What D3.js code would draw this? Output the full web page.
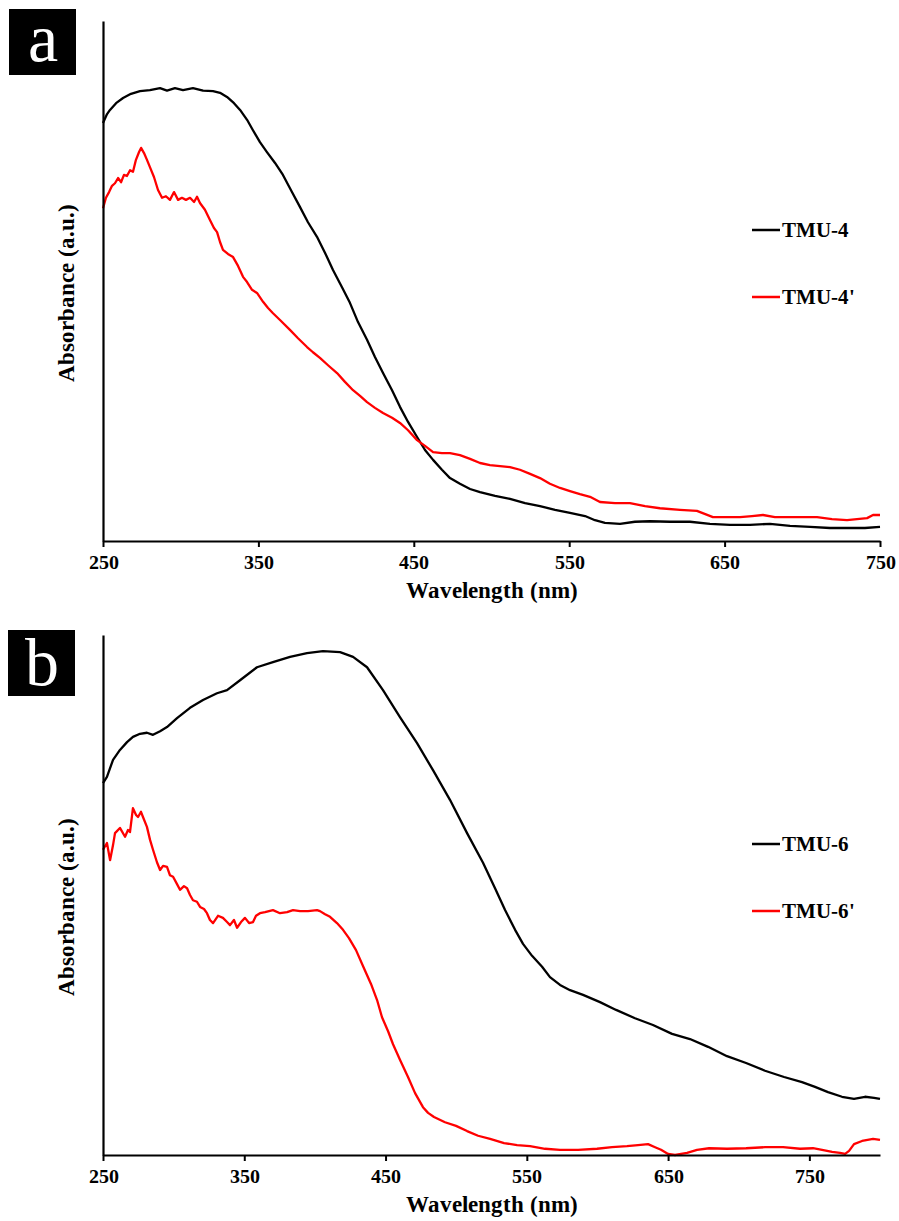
<!DOCTYPE html>
<html>
<head>
<meta charset="utf-8">
<script src="https://cdn.jsdelivr.net/npm/d3@7"></script>
<style>
  @font-face { font-family: 'ChartSerif'; src: local('Liberation Serif'), local('LiberationSerif'), local('Liberation Serif Regular'), local('LiberationSerif-Regular'); font-weight: normal; }
  @font-face { font-family: 'ChartSerif'; src: local('Liberation Serif Bold'), local('LiberationSerif-Bold'); font-weight: bold; }
  html, body { margin: 0; padding: 0; background: #fff; }
  svg { display: block; }
  .serif { font-family: 'ChartSerif', 'Liberation Serif', serif !important; }
</style>
</head>
<body>
<svg id="chart" width="899" height="1221"></svg>
<script>
// ---------- DATA ----------
const xTicks = [250, 350, 450, 550, 650, 750];

// Panel a
const tmu4Wl = [250.0,252.6,254.5,258.4,262.9,268.0,273.8,280.2,286.7,291.2,296.3,301.5,307.9,314.4,320.8,325.3,329.8,334.3,338.2,342.7,346.5,351.0,355.5,360.7,365.8,371.6,376.8,381.9,387.7,392.9,398.0,403.8,408.9,414.1,419.9,425.0,430.2,436.0,441.1,446.3,452.1,457.2,462.4,468.1,473.3,479.7,486.2,492.6,502.3,511.9,521.6,531.2,540.9,550.5,560.2,566.6,573.0,582.7,592.3,602.0,614.9,627.7,640.6,653.5,666.3,679.2,692.1,705.0,717.8,730.7,740.3,750.0];
const tmu4Abs = [0.804,0.821,0.829,0.842,0.852,0.860,0.865,0.867,0.871,0.866,0.871,0.867,0.871,0.866,0.865,0.862,0.854,0.842,0.829,0.810,0.790,0.767,0.748,0.727,0.704,0.671,0.642,0.613,0.585,0.554,0.521,0.488,0.458,0.421,0.387,0.354,0.323,0.290,0.258,0.229,0.200,0.175,0.156,0.137,0.121,0.110,0.100,0.094,0.087,0.081,0.073,0.067,0.060,0.054,0.048,0.040,0.035,0.033,0.037,0.038,0.037,0.037,0.033,0.031,0.031,0.033,0.029,0.027,0.025,0.025,0.025,0.027];

const tmu4pWl = [250.0,251.9,253.9,255.8,257.7,259.7,261.6,263.5,265.4,267.4,269.3,271.2,273.2,274.5,276.4,278.3,280.2,282.8,285.4,288.0,290.5,293.1,295.7,298.3,300.8,303.4,306.0,308.6,310.5,312.4,315.6,318.9,321.4,323.4,325.3,327.2,330.4,333.7,336.9,340.1,342.7,345.9,349.1,353.0,356.2,359.4,363.9,370.3,375.5,381.3,385.1,389.6,394.8,400.6,405.7,410.9,415.4,419.9,425.0,430.2,436.0,441.1,446.3,452.1,457.2,462.4,468.1,473.3,479.7,486.2,492.6,499.0,505.5,511.9,518.3,524.8,531.2,537.6,544.1,550.5,556.9,563.4,569.8,579.5,589.1,598.8,608.4,621.3,632.2,642.5,651.5,659.9,667.6,674.7,682.4,690.2,698.5,709.5,719.1,728.8,735.2,741.7,745.5,750.0];
const tmu4pAbs = [0.640,0.660,0.671,0.683,0.688,0.698,0.690,0.704,0.702,0.713,0.710,0.733,0.748,0.756,0.746,0.733,0.719,0.700,0.675,0.660,0.663,0.656,0.671,0.656,0.660,0.656,0.660,0.652,0.662,0.650,0.637,0.617,0.602,0.594,0.575,0.560,0.552,0.546,0.529,0.508,0.498,0.483,0.477,0.460,0.448,0.438,0.425,0.406,0.390,0.373,0.363,0.352,0.338,0.323,0.306,0.290,0.279,0.267,0.256,0.246,0.237,0.227,0.213,0.194,0.183,0.171,0.169,0.169,0.165,0.158,0.150,0.146,0.144,0.142,0.137,0.129,0.121,0.110,0.102,0.096,0.090,0.085,0.075,0.073,0.073,0.067,0.063,0.060,0.058,0.046,0.046,0.046,0.048,0.050,0.046,0.046,0.046,0.046,0.042,0.040,0.042,0.044,0.050,0.050];

// Panel b
const tmu6Wl = [250.0,252.8,257.1,262.0,267.0,271.2,276.2,281.1,285.4,290.4,295.3,302.4,311.6,320.8,330.7,337.8,347.0,359.0,370.3,382.4,394.4,405.7,417.8,427.0,436.9,448.2,460.2,472.3,483.6,495.6,507.7,519.0,527.5,534.6,541.7,547.3,553.7,560.8,566.4,573.5,580.6,589.8,601.8,613.2,626.6,639.3,652.8,665.5,678.3,691.7,705.2,718.6,732.1,744.8,754.0,763.2,773.1,781.6,789.4,795.8,800.0];
const tmu6Abs = [0.715,0.727,0.760,0.779,0.794,0.804,0.810,0.812,0.808,0.815,0.823,0.840,0.860,0.875,0.888,0.894,0.913,0.938,0.948,0.958,0.965,0.969,0.967,0.958,0.938,0.894,0.842,0.792,0.740,0.683,0.619,0.562,0.513,0.471,0.433,0.406,0.383,0.362,0.342,0.327,0.317,0.308,0.294,0.279,0.263,0.250,0.233,0.223,0.208,0.190,0.177,0.162,0.150,0.140,0.131,0.121,0.112,0.108,0.112,0.110,0.108];

const tmu6pWl = [250.0,252.8,255.0,257.1,258.5,262.0,265.6,267.7,269.1,271.2,273.4,274.8,276.9,278.3,281.1,283.3,285.4,288.2,290.4,292.5,295.3,297.4,299.6,302.4,304.5,307.3,309.5,311.6,313.7,316.5,318.7,321.5,323.6,325.7,327.9,331.4,334.9,337.8,339.9,342.7,344.9,347.7,350.5,353.4,356.2,358.3,361.1,364.7,370.3,375.3,380.3,384.5,389.5,395.1,401.5,403.6,407.2,410.7,415.6,419.9,424.1,429.1,434.1,439.7,444.0,447.5,451.8,455.3,460.2,465.9,470.9,476.5,480.1,484.3,492.1,499.9,507.7,515.5,524.0,533.9,543.1,552.3,562.9,573.5,586.3,599.7,610.3,620.9,628.7,635.8,640.8,645.0,650.0,654.9,659.2,663.4,670.5,679.0,691.7,705.2,718.6,731.4,743.4,752.6,759.0,766.1,771.7,775.3,778.1,781.6,787.3,795.1,800.0];
const tmu6pAbs = [0.587,0.600,0.567,0.596,0.619,0.629,0.612,0.625,0.621,0.667,0.654,0.650,0.660,0.650,0.631,0.606,0.587,0.563,0.548,0.556,0.554,0.538,0.535,0.521,0.510,0.517,0.513,0.500,0.490,0.487,0.477,0.473,0.465,0.452,0.446,0.460,0.456,0.448,0.442,0.452,0.437,0.448,0.456,0.446,0.448,0.460,0.465,0.467,0.471,0.465,0.467,0.471,0.469,0.469,0.471,0.469,0.463,0.458,0.446,0.433,0.417,0.394,0.363,0.329,0.298,0.265,0.238,0.213,0.183,0.150,0.119,0.092,0.081,0.073,0.063,0.056,0.046,0.037,0.031,0.023,0.019,0.017,0.012,0.010,0.010,0.012,0.015,0.017,0.019,0.021,0.015,0.010,0.002,0.000,0.002,0.004,0.010,0.013,0.012,0.013,0.015,0.015,0.012,0.013,0.010,0.006,0.004,0.002,0.008,0.021,0.027,0.031,0.029];

const panelLabels = ["a", "b"];
const seriesNamesA = ["TMU-4", "TMU-4'"];
const seriesNamesB = ["TMU-6", "TMU-6'"];
const xTitle = "Wavelength (nm)";
const yTitle = "Absorbance (a.u.)";
const colors = ["#000000", "#ff0000"];

// ---------- DRAW ----------
const svg = d3.select("#chart");

function drawPanel(cfg) {
  const g = svg.append("g");
  const x = d3.scaleLinear().domain(cfg.xDomain).range([103, 880]);
  const y = d3.scaleLinear().domain([0, 1]).range([cfg.bottom, cfg.bottom - 520]);

  const line = d3.line().x(d => x(d[0])).y(d => y(d[1]));
  cfg.series.forEach((s, i) => {
    const pts = s.wl.map((w, k) => [w, s.abs[k]]);
    g.append("path").datum(pts)
      .attr("d", line)
      .attr("fill", "none")
      .attr("stroke", colors[i])
      .attr("stroke-width", 2.3)
      .attr("stroke-linejoin", "round");
  });

  const xa = g.append("g")
    .attr("transform", `translate(0,${cfg.bottom})`)
    .call(d3.axisBottom(x).tickValues(xTicks).tickSizeInner(6).tickSizeOuter(0).tickPadding(8).tickFormat(d3.format("d")));
  xa.attr("font-family", null).attr("font-size", null);
  xa.select(".domain").attr("stroke", "#000").attr("stroke-width", 2.2);
  xa.selectAll(".tick line").attr("stroke", "#000").attr("stroke-width", 2);
  xa.selectAll(".tick text")
    .attr("class", "serif")
    .attr("fill", "#000")
    .attr("font-weight", "bold")
    .attr("font-size", 20);

  const ya = g.append("g")
    .attr("transform", `translate(103,0)`)
    .call(d3.axisLeft(y).tickValues([]).tickSizeOuter(0));
  ya.select(".domain").attr("stroke", "#000").attr("stroke-width", 2.2);

  g.append("text")
    .attr("class", "serif")
    .attr("x", 492).attr("y", cfg.bottom + 57)
    .attr("text-anchor", "middle")
    .attr("font-weight", "bold").attr("font-size", 23)
    .text(xTitle);
  g.append("text")
    .attr("class", "serif")
    .attr("transform", `translate(74,${cfg.bottom - 248}) rotate(-90)`)
    .attr("text-anchor", "middle")
    .attr("font-weight", "bold").attr("font-size", 23)
    .text(yTitle);

  cfg.names.forEach((n, i) => {
    const ly = cfg.legendY + i * 67;
    g.append("line")
      .attr("x1", 752).attr("x2", 780)
      .attr("y1", ly).attr("y2", ly)
      .attr("stroke", colors[i]).attr("stroke-width", 2.5);
    g.append("text")
      .attr("class", "serif")
      .attr("x", 782).attr("y", ly + 7)
      .attr("font-weight", "bold").attr("font-size", 21)
      .text(n);
  });

  g.append("rect")
    .attr("x", cfg.boxX).attr("y", cfg.boxY)
    .attr("width", 67).attr("height", 66)
    .attr("fill", "#000");
  g.append("text")
    .attr("class", "serif")
    .attr("x", cfg.boxX + 33.5).attr("y", cfg.boxY + cfg.labelBase)
    .attr("text-anchor", "middle")
    .attr("fill", "#fff")
    .attr("font-size", cfg.labelSize)
    .text(cfg.label);
}

drawPanel({
  xDomain: [250, 750], bottom: 541,
  series: [{wl: tmu4Wl, abs: tmu4Abs}, {wl: tmu4pWl, abs: tmu4pAbs}],
  names: seriesNamesA, legendY: 230,
  boxX: 9, boxY: 9, label: panelLabels[0], labelSize: 68, labelBase: 52
});
drawPanel({
  xDomain: [250, 800], bottom: 1155,
  series: [{wl: tmu6Wl, abs: tmu6Abs}, {wl: tmu6pWl, abs: tmu6pAbs}],
  names: seriesNamesB, legendY: 844,
  boxX: 8, boxY: 630, label: panelLabels[1], labelSize: 68, labelBase: 55
});
</script>
</body>
</html>
